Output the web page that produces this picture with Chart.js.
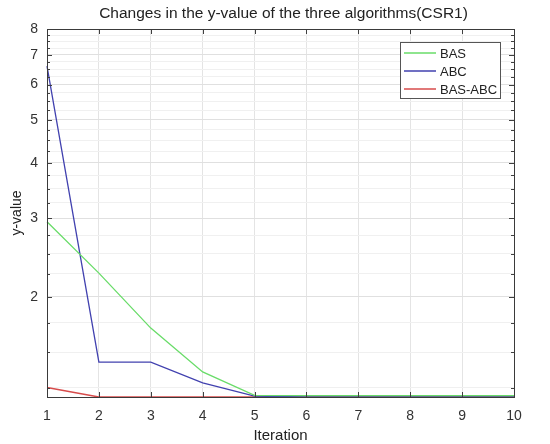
<!DOCTYPE html>
<html>
<head>
<meta charset="utf-8">
<script src="https://cdn.jsdelivr.net/npm/chart.js@4"></script>
<style>
html,body{margin:0;padding:0;background:#fff;}
#wrap{width:550px;height:444px;}
</style>
</head>
<body>
<div id="wrap"><canvas id="c" width="550" height="444"></canvas></div>
<script>
const iterations = [1,2,3,4,5,6,7,8,9,10];
const basValues = [2.95, 2.26, 1.70, 1.355, 1.20, 1.198, 1.198, 1.198, 1.198, 1.198];
const abcValues = [6.6, 1.426, 1.426, 1.28, 1.195, 1.19, 1.19, 1.19, 1.19, 1.19];
const basAbcValues = [1.25, 1.19, 1.19, 1.19, 1.19, 1.19, 1.19, 1.19, 1.19, 1.19];
const seriesLabels = ['BAS', 'ABC', 'BAS-ABC'];
const seriesColors = ['rgb(105,220,105)', 'rgb(65,65,175)', 'rgb(215,75,75)'];
const chartTitle = 'Changes in the y-value of the three algorithms(CSR1)';
const yTickValues = [];
for (let v = 1.25; v <= 8.0001; v += 0.25) yTickValues.push(Math.round(v*100)/100);
const yLabelValues = [2,3,4,5,6,7,8];
const xTickValues = [1,2,3,4,5,6,7,8,9,10];
const yMin = 1.19, yMax = 8;

const FONT = '"Liberation Sans", Arial, Helvetica, sans-serif';

function toXY(vals){ return vals.map((v,i)=>({x: iterations[i], y: v})); }

const framePlugin = {
  id: 'frame',
  afterDatasetsDraw(chart){
    const {ctx, chartArea:a, scales:{x, y}} = chart;
    ctx.save();
    ctx.strokeStyle = '#404040';
    ctx.lineWidth = 1;
    ctx.beginPath();
    xTickValues.forEach(v=>{
      const px = Math.round(x.getPixelForValue(v))+0.5;
      ctx.moveTo(px, a.bottom); ctx.lineTo(px, a.bottom-5);
      ctx.moveTo(px, a.top); ctx.lineTo(px, a.top+5);
    });
    yTickValues.forEach(v=>{
      const py = Math.round(y.getPixelForValue(v))+0.5;
      const len = yLabelValues.includes(v) ? 5 : 3;
      ctx.moveTo(a.left, py); ctx.lineTo(a.left+len, py);
      ctx.moveTo(a.right, py); ctx.lineTo(a.right-len, py);
    });
    ctx.stroke();
    ctx.strokeStyle = '#3a3a3a';
    ctx.strokeRect(Math.round(a.left)+0.5, Math.round(a.top)+0.5, Math.round(a.right-a.left), Math.round(a.bottom-a.top));
    // title centred over the axes
    ctx.fillStyle = '#222';
    ctx.font = '15.5px ' + FONT;
    ctx.textAlign = 'center';
    ctx.textBaseline = 'middle';
    ctx.fillText(chartTitle, (a.left + a.right)/2 + 3, 14);
    // legend
    const lx = 400, ly = 42, lw = 100, lh = 56;
    ctx.fillStyle = '#ffffff';
    ctx.fillRect(lx, ly, lw, lh);
    ctx.strokeStyle = '#555555';
    ctx.lineWidth = 1;
    ctx.strokeRect(lx+0.5, ly+0.5, lw, lh);
    ctx.font = '13px ' + FONT;
    ctx.textBaseline = 'middle';
    ctx.textAlign = 'left';
    chart.data.datasets.forEach((ds, i)=>{
      const ry = ly + 11 + i*18;
      ctx.beginPath();
      ctx.strokeStyle = seriesColors[i];
      ctx.lineWidth = 1.5;
      ctx.moveTo(lx+4, ry); ctx.lineTo(lx+36, ry);
      ctx.stroke();
      ctx.fillStyle = '#222';
      ctx.fillText(ds.label, lx+40, ry+1);
    });
    ctx.restore();
  }
};

new Chart(document.getElementById('c'), {
  type: 'line',
  data: {
    datasets: [
      {label:seriesLabels[0], data: toXY(basValues), borderColor:seriesColors[0], borderWidth:1.3, pointRadius:0, tension:0, clip:false},
      {label:seriesLabels[1], data: toXY(abcValues), borderColor:seriesColors[1], borderWidth:1.3, pointRadius:0, tension:0, clip:false},
      {label:seriesLabels[2], data: toXY(basAbcValues), borderColor:seriesColors[2], borderWidth:1.3, pointRadius:0, tension:0, clip:false}
    ]
  },
  options: {
    responsive:false,
    animation:false,
    events: [],
    layout:{padding:{right:36, top:29, left:0, bottom:0}},
    plugins:{
      legend:{display:false},
      tooltip:{enabled:false},
      title:{display:false}
    },
    scales:{
      x:{
        type:'linear', min:1, max:10,
        afterBuildTicks(s){ s.ticks = xTickValues.map(v=>({value:v})); },
        afterFit(s){ s.height = 47; },
        ticks:{color:'#333', font:{family:FONT, size:14}, padding:11, maxRotation:0, autoSkip:false},
        grid:{color:'#e4e4e4', drawTicks:false},
        border:{display:false},
        title:{display:true, text:'Iteration', color:'#222', font:{family:FONT, size:15, lineHeight:1.05}, padding:{top:0, bottom:0}}
      },
      y:{
        type:'logarithmic', min:yMin, max:yMax, bounds:'data',
        afterBuildTicks(s){ s.ticks = yTickValues.map(v=>({value:v})); },
        afterFit(s){ s.width = 47; },
        ticks:{color:'#333', font:{family:FONT, size:14}, padding:9, autoSkip:false,
          callback:(v)=> yLabelValues.includes(v) ? String(v) : ''},
        grid:{drawTicks:false, color:(c)=> (c.tick && yLabelValues.includes(c.tick.value)) ? '#e0e0e0' : '#f0f0f0'},
        border:{display:false},
        title:{display:true, text:'y-value', color:'#222', font:{family:FONT, size:14}, padding:{top:9, bottom:0}}
      }
    }
  },
  plugins:[framePlugin]
});
</script>
</body>
</html>
